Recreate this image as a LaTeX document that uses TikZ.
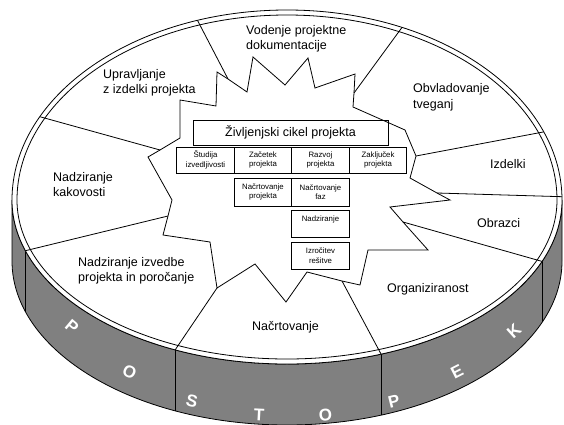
\documentclass[tikz,border=0pt]{standalone}
\usepackage{fontspec}
\setmainfont{Liberation Sans}
\usepackage{xcolor}
\definecolor{cBand}{HTML}{808080}
\definecolor{cLine}{HTML}{000000}
\usetikzlibrary{positioning}
\tikzset{
  face-line/.style={draw=cLine,line width=0.8pt},
  band-fill/.style={fill=cBand,draw=cLine,line width=0.8pt},
  spoke/.style={draw=cLine,line width=0.8pt},
  area-label/.style={anchor=base west,align=left,inner sep=0pt,
    font=\fontsize{12.5}{15}\selectfont},
  cycle-title/.style={draw=cLine,line width=0.8pt,minimum width=195pt,
    minimum height=25pt,inner sep=0pt,font=\fontsize{12.5}{15}\selectfont},
  cycle-box/.style={draw=cLine,line width=0.8pt,minimum width=57.5pt,
    minimum height=26pt,inner sep=0pt,outer sep=0pt,align=center,
    font=\fontsize{7.8}{9.5}\selectfont},
  band-letter/.style={text=white,inner sep=0pt,
    font=\fontsize{17}{17}\selectfont\bfseries},
}

\begin{document}
\begin{tikzpicture}[x=1pt,y=-1pt]
  \useasboundingbox (0,0) rectangle (564,425);
  % side of the disc
  \path[band-fill] (12,200) -- (12,261)
    arc[start angle=180,end angle=0,x radius=275,y radius=164] -- (562,200)
    arc[start angle=0,end angle=180,x radius=275,y radius=164] -- cycle;
  \draw[spoke] (25.5,250.7) -- ++(0,61);
  \draw[spoke] (175.2,349.8) -- ++(0,61);
  \draw[spoke] (381,354) -- ++(0,61);
  \draw[spoke] (542,261.4) -- ++(0,61);
  % top face with its rim
  \path[face-line,fill=white] (12,200)
    arc[start angle=180,end angle=360,x radius=275,y radius=190]
    arc[start angle=0,end angle=180,x radius=275,y radius=164] -- cycle;
  \draw[face-line] (17,200)
    arc[start angle=180,end angle=360,x radius=270,y radius=185]
    arc[start angle=0,end angle=180,x radius=270,y radius=159] -- cycle;

  % points on the rim
  \coordinate (r-vod) at (197.5,20.4);
  \coordinate (r-obv) at (402,27.4);
  \coordinate (r-izd) at (543.7,131.9);
  \coordinate (r-obr) at (562,196.7);
  \coordinate (r-org) at (542,261.4);
  \coordinate (r-nac) at (381,354);
  \coordinate (r-izv) at (175.2,349.8);
  \coordinate (r-kak) at (25.5,250.7);
  \coordinate (r-upr) at (39.8,116.7);
  % points on the star
  \coordinate (s-vod) at (228,79);
  \coordinate (s-obv) at (354,93);
  \coordinate (s-izd) at (416,156);
  \coordinate (s-obr) at (437,193);
  \coordinate (s-org) at (403,222);
  \coordinate (s-nac) at (342,281);
  \coordinate (s-izv) at (217,288);
  \coordinate (s-kak) at (168,216);
  \coordinate (s-upr) at (160,150);

  \draw[face-line,fill=white] (180,100) -- (216,106) -- (217,72) -- (s-vod)
    -- (247,92) -- (253,57) -- (285,85) -- (308,58) -- (315,88) -- (355,74)
    -- (s-obv) -- (353,107) -- (405,130) -- (s-izd) -- (410,178) -- (s-obr)
    -- (450,200) -- (390,207) -- (s-org) -- (428,250) -- (368,250)
    -- (360,285) -- (s-nac) -- (307,272) -- (286,302) -- (255,264)
    -- (s-izv) -- (210,242) -- (163,235) -- (s-kak) -- (172,200)
    -- (148,157) -- (s-upr) -- (180,138) -- cycle;

  \draw[spoke] (r-vod) -- (s-vod);
  \draw[spoke] (r-obv) -- (s-obv);
  \draw[spoke] (r-izd) -- (s-izd);
  \draw[spoke] (r-obr) -- (s-obr);
  \draw[spoke] (r-org) -- (s-org);
  \draw[spoke] (r-nac) -- (s-nac);
  \draw[spoke] (r-izv) -- (s-izv);
  \draw[spoke] (r-kak) -- (s-kak);
  \draw[spoke] (r-upr) -- (s-upr);

  % areas of the process (base = last line)
  \node[area-label] (vodenje) at (246,50) {Vodenje projektne\\dokumentacije};
  \node[area-label] (upravljanje) at (103,94) {Upravljanje\\z izdelki projekta};
  \node[area-label] (tveganja) at (413,108) {Obvladovanje\\tveganj};
  \node[area-label] (izdelki) at (490,168) {Izdelki};
  \node[area-label] (obrazci) at (477,227) {Obrazci};
  \node[area-label] (organiz) at (387,292) {Organiziranost};
  \node[area-label] (nacrtovanje) at (252,330) {Načrtovanje};
  \node[area-label] (porocanje) at (78,281) {Nadziranje izvedbe\\projekta in poročanje};
  \node[area-label] (kakovost) at (53,196) {Nadziranje\\kakovosti};

  % life cycle
  \node[cycle-title] (cikel) at (290.5,132.5) {Življenjski cikel projekta};
  \node[cycle-box] (studija) at (205.5,160) {Študija\\izvedljivosti};
  \node[cycle-box,right=0pt of studija] (zacetek) {Začetek\\projekta};
  \node[cycle-box,right=0pt of zacetek] (razvoj) {Razvoj\\projekta};
  \node[cycle-box,right=0pt of razvoj] (zakljucek) {Zaključek\\projekta};
  \node[cycle-box,minimum height=28pt,below=5pt of zacetek] (nacrt-proj) {Načrtovanje\\projekta};
  \node[cycle-box,minimum height=28pt,right=0pt of nacrt-proj] (nacrt-faz) {Načrtovanje\\faz};
  \node[cycle-box,minimum height=27pt,below=4pt of nacrt-faz] (nadzor) {Nadziranje\\\mbox{}};
  \node[cycle-box,minimum height=27pt,below=5pt of nadzor] (izrocitev) {Izročitev\\rešitve};

  % letters on the side
  \node[band-letter,rotate=-40] (l-1) at (72,327) {P};
  \node[band-letter,rotate=-25] (l-2) at (129.5,372) {O};
  \node[band-letter,rotate=-13] (l-3) at (192,401) {S};
  \node[band-letter,rotate=-3] (l-4) at (259,415) {T};
  \node[band-letter,rotate=5] (l-5) at (325.5,415) {O};
  \node[band-letter,rotate=14] (l-6) at (394,401) {P};
  \node[band-letter,rotate=27] (l-7) at (457,372) {E};
  \node[band-letter,rotate=42] (l-8) at (514,331) {K};
\end{tikzpicture}
\end{document}
